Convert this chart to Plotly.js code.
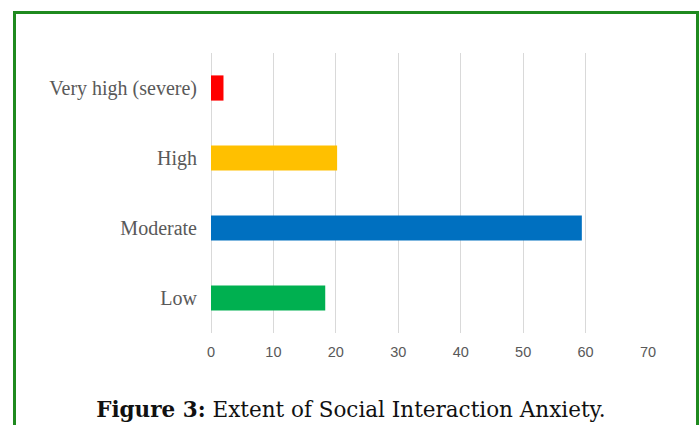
<!DOCTYPE html>
<html>
<head>
<meta charset="utf-8">
<script src="https://cdn.plot.ly/plotly-3.0.1.min.js"></script>
<style>
  html, body { margin: 0; padding: 0; background: #ffffff; }
  #wrap { position: relative; width: 699px; height: 425px; overflow: hidden; }
  #chart { position: absolute; left: 0; top: 0; width: 699px; height: 425px; }
  #frame { position: absolute; left: 13px; top: 11px; width: 680px; height: 430px;
           border-left: 3px solid #1f8a1f; border-top: 3px solid #1f8a1f; border-right: 3px solid #1f8a1f;
           pointer-events: none; }
</style>
</head>
<body>
<div id="wrap">
  <div id="chart"></div>
  <div id="frame"></div>
</div>
<script>
const categories = ['Low', 'Moderate', 'High', 'Very high (severe)'];
const values = [18.3, 59.4, 20.2, 2.0];
const barColors = ['#00B050', '#0070C0', '#FFC000', '#FF0000'];
const xTicks = [0, 10, 20, 30, 40, 50, 60, 70];
const captionBold = 'Figure 3:';
const captionText = ' Extent of Social Interaction Anxiety.';

const trace = {
  type: 'bar',
  orientation: 'h',
  y: categories,
  x: values,
  marker: { color: barColors, line: { width: 0 } },
  hoverinfo: 'x+y'
};

const layout = {
  width: 699,
  height: 425,
  margin: { l: 211, r: 51, t: 53, b: 92 },
  paper_bgcolor: 'rgba(0,0,0,0)',
  plot_bgcolor: 'rgba(0,0,0,0)',
  showlegend: false,
  bargap: 0.64,
  xaxis: {
    range: [0, 70],
    tickvals: xTicks,
    ticktext: xTicks.map(String),
    showgrid: true,
    gridcolor: '#d9d9d9',
    gridwidth: 1,
    zeroline: true,
    zerolinecolor: '#d9d9d9',
    zerolinewidth: 1,
    showline: false,
    ticks: 'outside',
    ticklen: 6,
    tickcolor: 'rgba(0,0,0,0)',
    tickfont: { family: 'Liberation Sans, Arial, sans-serif', size: 14.5, color: '#595959' },
    fixedrange: true
  },
  yaxis: {
    type: 'category',
    categoryorder: 'array',
    categoryarray: categories,
    showgrid: false,
    zeroline: false,
    showline: false,
    ticks: 'outside',
    ticklen: 9,
    tickcolor: 'rgba(0,0,0,0)',
    tickfont: { family: 'Liberation Serif, Times New Roman, serif', size: 20, color: '#595959' },
    fixedrange: true
  },
  title: {
    text: '<b>' + captionBold + '</b>' + captionText,
    font: { family: 'DejaVu Serif, Liberation Serif, serif', size: 21.5, color: '#111111' },
    xref: 'container',
    yref: 'container',
    x: 0.502,
    xanchor: 'center',
    y: 1 - 409 / 425,
    yanchor: 'middle'
  }
};

Plotly.newPlot('chart', [trace], layout, { displayModeBar: false, staticPlot: true });
</script>
</body>
</html>
